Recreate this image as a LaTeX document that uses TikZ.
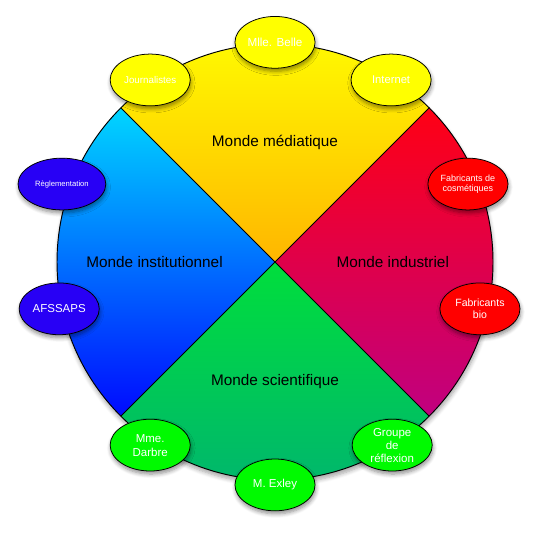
\documentclass[tikz,border=0pt]{standalone}
\usepackage{fontspec}
\setmainfont{Liberation Sans}
\usetikzlibrary{shapes.geometric,shadows.blur}
\definecolor{jauneH}{RGB}{255,255,0}
\definecolor{jauneB}{RGB}{255,182,0}
\definecolor{cyanH}{RGB}{0,214,255}
\definecolor{bleuB}{RGB}{0,10,255}
\definecolor{rougeH}{RGB}{255,0,20}
\definecolor{rougeB}{RGB}{192,0,128}
\definecolor{vertH}{RGB}{0,222,60}
\definecolor{vertB}{RGB}{0,180,112}
\definecolor{bleuE}{RGB}{40,0,245}
\definecolor{vertE}{RGB}{0,250,0}
\tikzset{
  acteur/.style={ellipse,draw=black,line width=.4pt,inner sep=0pt,
    minimum width=1.47cm,minimum height=.95cm,text=white,align=center,
    blur shadow={shadow xshift=.4pt,shadow yshift=-1.6pt,shadow blur steps=6,shadow opacity=45}},
  monde/.style={font=\fontsize{8}{9}\selectfont}
}
\begin{document}
\begin{tikzpicture}[line join = round, line cap = round,scale=1]
	%Les quatre mondes
	\useasboundingbox (-5.046,-4.991) rectangle (4.862,4.807);
	\def\R{4}
	\path[fill=white,blur shadow={shadow xshift=.4pt,shadow yshift=-2pt,shadow blur steps=6,shadow opacity=35}](0,0)coordinate(O)circle(\R);
	\foreach \a/\ct/\cb in {45/jauneH/jauneB,135/cyanH/bleuB,225/vertH/vertB,-45/rougeH/rougeB}
	\shade[top color=\ct,bottom color=\cb](O)--(\a:\R)arc(\a:\a+90:\R)--cycle;
	\path (45:\R)coordinate(NE) (135:\R)coordinate(NO) (225:\R)coordinate(SO) (-45:\R)coordinate(SE);
	\draw[line width=.4pt](NO)--(SE) (NE)--(SO);
	\draw[line width=.5pt](O)circle(\R);
	%mondes
	\node[monde] (med) at (0,2.2) {Monde médiatique};
	\node[monde] (ind) at (2.16,0) {Monde industriel};
	\node[monde] (ins) at (-2.21,0) {Monde institutionnel};
	\node[monde] (sci) at (0,-2.2) {Monde scientifique};
	%acteurs
	\node[acteur,fill=jauneH,font=\fontsize{6.1}{7}\selectfont] (belle) at (0,4.03) {Mlle. Belle};
	\node[acteur,fill=jauneH,font=\fontsize{5.1}{6}\selectfont] (journ) at (-2.29,3.34) {Journalistes};
	\node[acteur,fill=jauneH,font=\fontsize{5.85}{7}\selectfont] (inter) at (2.13,3.34) {Internet};
	\node[acteur,fill=bleuE,minimum width=1.61cm,font=\fontsize{4}{5}\selectfont] (regl) at (-3.91,1.43) {Règlementation};
	\node[acteur,fill=bleuE,font=\fontsize{6}{7}\selectfont] (afssaps) at (-3.96,-0.86) {AFSSAPS};
	\node[acteur,fill=red,font=\fontsize{4.7}{5.2}\selectfont] (cosm) at (3.54,1.43) {Fabricants de\\cosmétiques};
	\node[acteur,fill=red,font=\fontsize{5.5}{6.1}\selectfont] (bio) at (3.76,-0.86) {Fabricants\\bio};
	\node[acteur,fill=vertE,font=\fontsize{6}{7.3}\selectfont] (darbre) at (-2.29,-3.36) {Mme.\\Darbre};
	\node[acteur,fill=vertE,font=\fontsize{6}{7}\selectfont] (exley) at (0,-4.09) {M. Exley};
	\node[acteur,fill=vertE,font=\fontsize{6}{6.8}\selectfont] (groupe) at (2.15,-3.36) {Groupe\\de\\réflexion};
\end{tikzpicture}
\end{document}
